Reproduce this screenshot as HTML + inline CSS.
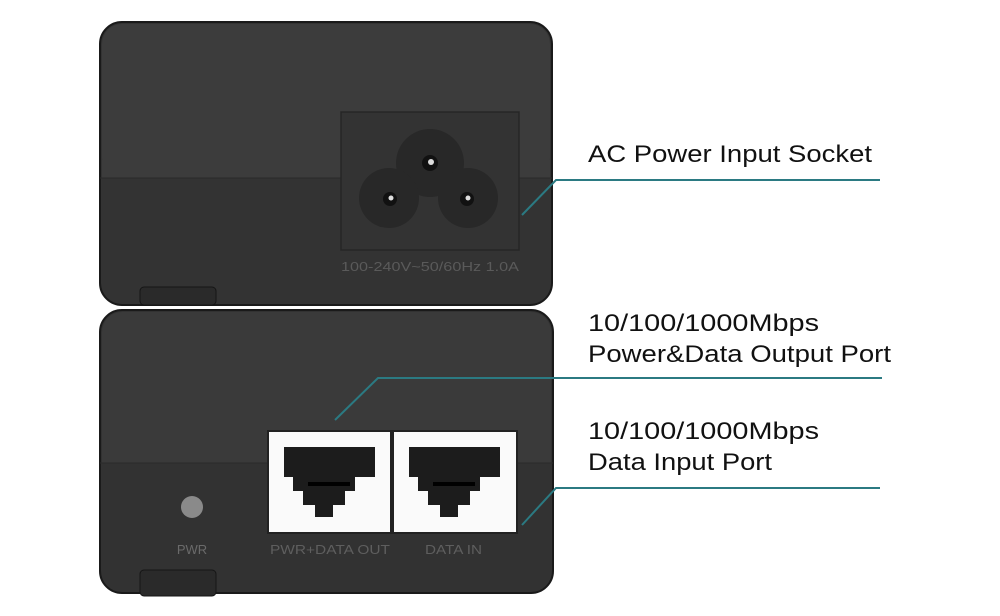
<!DOCTYPE html>
<html><head><style>
html,body{margin:0;padding:0;background:#fff;}
svg{display:block;}
text{font-family:"Liberation Sans",sans-serif;}
</style></head><body>
<svg width="1000" height="616" viewBox="0 0 1000 616" xmlns="http://www.w3.org/2000/svg">
<!-- top unit -->
<rect x="100" y="22" width="452" height="283" rx="22" fill="#333" stroke="#1a1a1a" stroke-width="2"/>
<rect x="102" y="24" width="448" height="154" rx="20" fill="#3c3c3c"/>
<rect x="102" y="160" width="448" height="18" fill="#3c3c3c"/>
<line x1="100" y1="178" x2="552" y2="178" stroke="#2a2a2a" stroke-width="1"/>
<rect x="341" y="112" width="178" height="138" fill="#333" stroke="#262626" stroke-width="1.5"/>
<circle cx="430" cy="163" r="34" fill="#282828"/>
<circle cx="389" cy="198" r="30" fill="#282828"/>
<circle cx="468" cy="198" r="30" fill="#282828"/>
<circle cx="430" cy="163" r="8" fill="#111"/><circle cx="431" cy="162" r="3" fill="#ddd"/>
<circle cx="390" cy="199" r="7" fill="#111"/><circle cx="391" cy="198" r="2.5" fill="#ddd"/>
<circle cx="467" cy="199" r="7" fill="#111"/><circle cx="468" cy="198" r="2.5" fill="#ddd"/>
<text x="341" y="271" font-size="13" fill="#5a5a5a" textLength="178" lengthAdjust="spacingAndGlyphs" font-family="Liberation Serif">100-240V~50/60Hz 1.0A</text>
<rect x="140" y="287" width="76" height="18" rx="4" fill="#2a2a2a" stroke="#151515"/>
<!-- bottom unit -->
<rect x="100" y="310" width="453" height="283" rx="22" fill="#323232" stroke="#1a1a1a" stroke-width="2"/>
<rect x="102" y="312" width="449" height="151" rx="20" fill="#3a3a3a"/>
<rect x="102" y="440" width="449" height="23" fill="#3a3a3a"/>
<line x1="100" y1="463" x2="553" y2="463" stroke="#2a2a2a"/>
<circle cx="192" cy="507" r="11" fill="#8a8a8a"/>
<text x="192" y="554" font-size="13" fill="#6a6a6a" text-anchor="middle">PWR</text>
<!-- ports -->
<g>
<rect x="268" y="431" width="123" height="102" fill="#fafafa" stroke="#222" stroke-width="2"/>
<path d="M284 447h91v30h-20v14h-10v14h-12v12h-18v-12h-12v-14h-10v-14h-9z" fill="#1c1c1c"/>
<rect x="308" y="482" width="42" height="4" fill="#000"/>
</g>
<g>
<rect x="393" y="431" width="124" height="102" fill="#fafafa" stroke="#222" stroke-width="2"/>
<path d="M409 447h91v30h-20v14h-10v14h-12v12h-18v-12h-12v-14h-10v-14h-9z" fill="#1c1c1c"/>
<rect x="433" y="482" width="42" height="4" fill="#000"/>
</g>
<text x="270" y="554" font-size="13" fill="#5e5e5e" textLength="120" lengthAdjust="spacingAndGlyphs">PWR+DATA OUT</text>
<text x="425" y="554" font-size="13" fill="#5e5e5e" textLength="57" lengthAdjust="spacingAndGlyphs">DATA IN</text>
<rect x="140" y="570" width="76" height="26" rx="4" fill="#2a2a2a" stroke="#151515"/>
<!-- leaders -->
<g stroke="#2b7a82" stroke-width="2" fill="none">
<polyline points="522,215 556,180 880,180"/>
<polyline points="335,420 378,378 882,378"/>
<polyline points="522,525 556,488 880,488"/>
</g>
<g font-size="24" fill="#111">
<text x="588" y="162" textLength="284" lengthAdjust="spacingAndGlyphs">AC Power Input Socket</text>
<text x="588" y="331" textLength="231" lengthAdjust="spacingAndGlyphs">10/100/1000Mbps</text>
<text x="588" y="362" textLength="303" lengthAdjust="spacingAndGlyphs">Power&amp;Data Output Port</text>
<text x="588" y="439" textLength="231" lengthAdjust="spacingAndGlyphs">10/100/1000Mbps</text>
<text x="588" y="470" textLength="184" lengthAdjust="spacingAndGlyphs">Data Input Port</text>
</g>
</svg>
</body></html>
